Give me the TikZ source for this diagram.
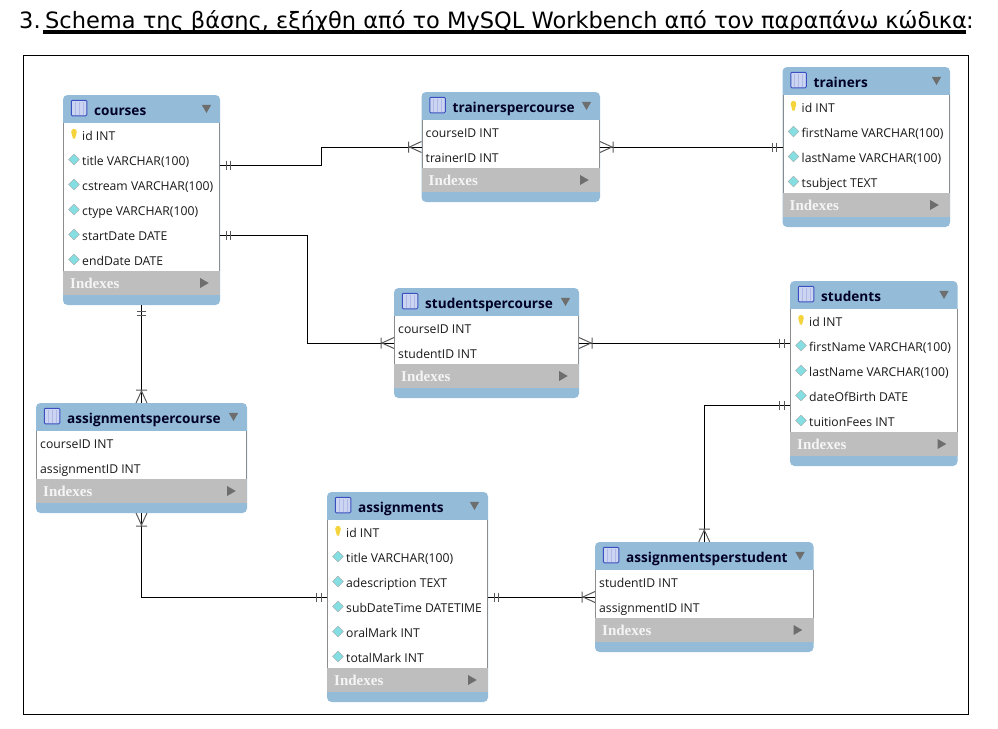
\documentclass[tikz,border=0pt]{standalone}
\usepackage{fontspec}
\newfontfamily\headfont{DejaVu Sans}
\newfontfamily\rowfont{Open Sans}
\newfontfamily\indexfont{Liberation Serif}
\usetikzlibrary{shapes.geometric,decorations.markings}
\definecolor{tableblue}{HTML}{94BCD9}
\definecolor{bandgray}{HTML}{BEBEBE}
\definecolor{arrowgray}{HTML}{6E6E6E}
\definecolor{keygold}{HTML}{F5D33C}
\definecolor{fieldteal}{HTML}{84DEE2}
\definecolor{iconblue}{HTML}{3A4FC0}
\definecolor{iconfill}{HTML}{CBD4F0}
\tikzset{
  frameline/.style={draw=black, line width=1pt},
  tableframe/.style={rectangle, rounded corners=4.5pt, fill=tableblue, inner sep=0pt, outer sep=0pt, anchor=north west},
  headtext/.style={anchor=base west, inner sep=0pt, font=\headfont\fontsize{22.5}{24}\selectfont},
  tabletitle/.style={anchor=base west, inner sep=0pt, text=black!85!blue, font=\rowfont\bfseries\fontsize{13.6}{14}\selectfont},
  rowtext/.style={anchor=base west, inner sep=0pt, text=black!90, font=\rowfont\fontsize{12.2}{13}\selectfont},
  indextext/.style={anchor=base west, inner sep=0pt, text=white!96!black, font=\indexfont\bfseries\fontsize{15}{15}\selectfont},
  fieldicon/.style={diamond, fill=fieldteal, draw=black!35, line width=.4pt, inner sep=0pt, minimum size=11pt},
  tableicon/.style={rectangle, rounded corners=1pt, fill=iconfill, draw=iconblue, line width=1pt, inner sep=0pt, minimum size=15.5pt},
  downmark/.style={regular polygon, regular polygon sides=3, shape border rotate=180, fill=arrowgray, inner sep=0pt, minimum size=11pt},
  rightmark/.style={regular polygon, regular polygon sides=3, shape border rotate=-90, fill=arrowgray, inner sep=0pt, minimum size=11.5pt},
  conn/.style={draw=black, line width=.9pt},
  tick/.style={draw=black!65, line width=1pt},
  startone/.style={postaction={decorate, decoration={markings, mark=at position 6pt with {\draw[tick] (0,-4.5) -- (0,4.5) (4.5,-4.5) -- (4.5,4.5);}}}},
  endone/.style={postaction={decorate, decoration={markings, mark=at position -10.5pt with {\draw[tick] (0,-4.5) -- (0,4.5) (4.5,-4.5) -- (4.5,4.5);}}}},
  startmany/.style={postaction={decorate, decoration={markings, mark=at position 13pt with {\draw[tick] (0,-5.5) -- (0,5.5) (-13,-5.5) -- (-1,0) -- (-13,5.5);}}}},
  endmany/.style={postaction={decorate, decoration={markings, mark=at position -13pt with {\draw[tick] (0,-5.5) -- (0,5.5) (13,-5.5) -- (1,0) -- (13,5.5);}}}},
}
% name, left, top, width, number of rows, title
\newcommand{\dbtable}[6]{
  \node[tableframe, minimum width=#4, minimum height=25*#5+60] (#1) at (#2,#3) {};
  \fill[white] (#2+.7,#3+28) rectangle (#2+#4-.7,#3+26+25*#5);
  \draw[black!45, line width=.7pt] (#2+.4,#3+28) -- (#2+.4,#3+26+25*#5) (#2+#4-.4,#3+28) -- (#2+#4-.4,#3+26+25*#5);
  \fill[bandgray] (#2,#3+26+25*#5) rectangle (#2+#4,#3+50+25*#5);
  \node[tableicon] (#1-icon) at (#2+16,#3+13) {};
  \draw[iconblue!40, line width=.5pt] (#2+12,#3+7) -- (#2+12,#3+20) (#2+16,#3+7) -- (#2+16,#3+20) (#2+20,#3+7) -- (#2+20,#3+20);
  \node[tabletitle] (#1-title) at (#2+31,#3+20) {#6};
  \node[downmark] (#1-down) at (#2+#4-13.5,#3+12.5) {};
  \node[indextext] (#1-indexes) at (#2+7,#3+43+25*#5) {Indexes};
  \node[rightmark] (#1-more) at (#2+#4-17,#3+38+25*#5) {};
}
% table columns with key and diamond marks
\newcommand{\fieldrows}[4]{
  \foreach \txt [count=\i] in {#4} {
    \node[rowtext] (#1-row\i) at (#2+19,#3+20+25*\i) {\txt};
    \ifnum\i=1
      \fill[keygold, shift={(#2+11,#3+39)}] (-2.8,-2) .. controls (-2.8,-6.2) and (2.8,-6.2) .. (2.8,-2) .. controls (2.8,.5) and (1.3,1) .. (1.1,4.5) -- (-1.1,4.5) .. controls (-1.3,1) and (-2.8,.5) .. cycle;
    \else
      \node[fieldicon] (#1-mark\i) at (#2+11,#3+14.5+25*\i) {};
    \fi
  }
}
% link table columns, no marks
\newcommand{\linkrows}[4]{
  \foreach \txt [count=\i] in {#4} {
    \node[rowtext] (#1-row\i) at (#2+4,#3+20+25*\i) {\txt};
  }
}
\begin{document}
\begin{tikzpicture}[x=1pt, y=-1pt]
\useasboundingbox (0,0) rectangle (998,728);
\fill[white] (0,0) rectangle (998,728);
% heading
\node[headtext] (numlabel) at (19,28) {3.};
\node[headtext] (schemahead) at (45,28) {Schema της βάσης, εξήχθη από το MySQL Workbench από τον παραπάνω κώδικα};
\node[headtext] (colonmark) at (966,28) {:};
\fill[black] (43,30) rectangle (966,34);
\draw[frameline] (23.5,55.5) rectangle (968.5,714.5);
% tables
\dbtable{courses}{63}{95}{157}{6}{courses}
\fieldrows{courses}{63}{95}{id INT, title VARCHAR(100), cstream VARCHAR(100), ctype VARCHAR(100), startDate DATE, endDate DATE}
\dbtable{trainerspercourse}{421.5}{92}{178.5}{2}{trainerspercourse}
\linkrows{trainerspercourse}{421.5}{92}{courseID INT, trainerID INT}
\dbtable{trainers}{782.5}{67}{167.5}{4}{trainers}
\fieldrows{trainers}{782.5}{67}{id INT, firstName VARCHAR(100), lastName VARCHAR(100), tsubject TEXT}
\dbtable{studentspercourse}{394}{288}{185}{2}{studentspercourse}
\linkrows{studentspercourse}{394}{288}{courseID INT, studentID INT}
\dbtable{students}{790}{281}{167.5}{5}{students}
\fieldrows{students}{790}{281}{id INT, firstName VARCHAR(100), lastName VARCHAR(100), dateOfBirth DATE, tuitionFees INT}
\dbtable{assignmentspercourse}{36}{403}{211}{2}{assignmentspercourse}
\linkrows{assignmentspercourse}{36}{403}{courseID INT, assignmentID INT}
\dbtable{assignments}{327}{492}{161}{6}{assignments}
\fieldrows{assignments}{327}{492}{id INT, title VARCHAR(100), adescription TEXT, subDateTime DATETIME, oralMark INT, totalMark INT}
\dbtable{assignmentsperstudent}{595}{542}{218.5}{2}{assignmentsperstudent}
\linkrows{assignmentsperstudent}{595}{542}{studentID INT, assignmentID INT}
% ports on the long sides
\coordinate (courses-p1) at (220,165);
\coordinate (courses-p2) at (220,235);
\coordinate (students-p1) at (790,343);
\coordinate (students-p2) at (790,405);
% relations
\draw[conn, startone, endmany] (courses-p1) -| (321,147) -- (trainerspercourse.west);
\draw[conn, startmany, endone] (trainerspercourse.east) -- (trainers.west);
\draw[conn, startone, endmany] (courses-p2) -| (307.5,343) -- (studentspercourse.west);
\draw[conn, startmany, endone] (studentspercourse.east) -- (students-p1);
\draw[conn, startone, endmany] (courses.south) -- (assignmentspercourse.north);
\draw[conn, startmany, endone] (assignmentspercourse.south) |- (assignments.west);
\draw[conn, startone, endmany] (assignments.east) -- (assignmentsperstudent.west);
\draw[conn, startone, endmany] (students-p2) -| (assignmentsperstudent.north);
\end{tikzpicture}
\end{document}
